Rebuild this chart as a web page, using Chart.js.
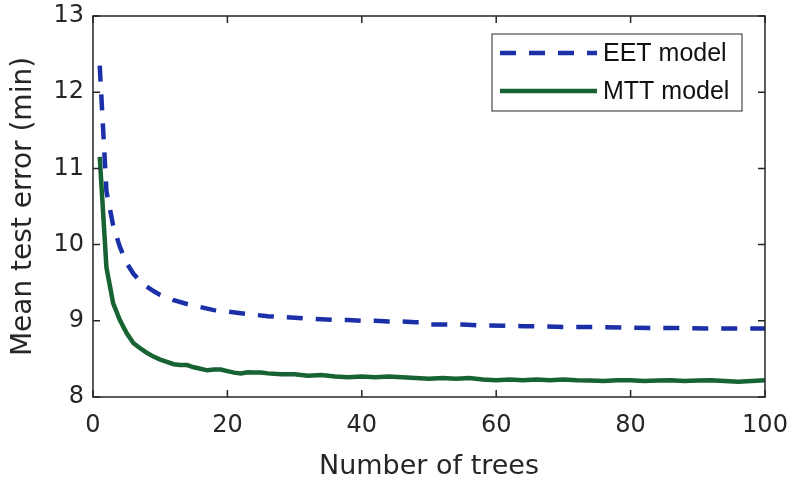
<!DOCTYPE html>
<html>
<head>
<meta charset="utf-8">
<script src="https://cdn.jsdelivr.net/npm/chart.js@4/dist/chart.umd.min.js"></script>
<style>
  html, body { margin: 0; padding: 0; background: #fff; }
  #wrap { width: 788px; height: 480px; }
</style>
</head>
<body>
<div id="wrap"><canvas id="c" width="788" height="480"></canvas></div>
<script>
// data
let eetX = [1, 2, 3, 4, 5, 6, 7, 8, 9, 10, 12, 14, 16, 18, 20, 22, 24, 26, 28, 30, 32, 34, 36, 38, 40, 42, 44, 46, 48, 49, 50, 52, 55, 58, 61, 64, 67, 70, 73, 76, 80, 84, 88, 92, 96, 100]
let eetY = [12.35, 10.7, 10.25, 9.97, 9.76, 9.62, 9.52, 9.45, 9.39, 9.34, 9.27, 9.22, 9.18, 9.14, 9.12, 9.1, 9.08, 9.06, 9.05, 9.04, 9.03, 9.02, 9.01, 9.01, 9.0, 9.0, 8.99, 8.99, 8.98, 8.98, 8.95, 8.95, 8.95, 8.94, 8.935, 8.93, 8.925, 8.92, 8.92, 8.915, 8.91, 8.905, 8.905, 8.9, 8.9, 8.9]

let mttX = [1, 2, 3, 4, 5, 6, 7, 8, 9, 10, 11, 12, 13, 14, 15, 16, 17, 18, 19, 20, 21, 22, 23, 24, 25, 26, 28, 30, 32, 34, 36, 38, 40, 42, 44, 46, 48, 50, 52, 54, 56, 58, 60, 62, 64, 66, 68, 70, 72, 74, 76, 78, 80, 82, 84, 86, 88, 90, 92, 94, 96, 98, 100]
let mttY = [11.15, 9.7, 9.23, 9.01, 8.84, 8.71, 8.64, 8.58, 8.53, 8.49, 8.46, 8.43, 8.42, 8.42, 8.39, 8.37, 8.35, 8.36, 8.36, 8.34, 8.32, 8.31, 8.325, 8.32, 8.32, 8.31, 8.3, 8.3, 8.28, 8.29, 8.27, 8.26, 8.27, 8.26, 8.27, 8.26, 8.25, 8.24, 8.25, 8.24, 8.25, 8.23, 8.22, 8.23, 8.22, 8.23, 8.22, 8.23, 8.22, 8.215, 8.21, 8.22, 8.22, 8.21, 8.215, 8.22, 8.21, 8.215, 8.22, 8.21, 8.2, 8.21, 8.22]

let xTicks = [0, 20, 40, 60, 80, 100]
let yTicks = [8, 9, 10, 11, 12, 13]

let axisColor = "#262626"
let font = "'DejaVu Sans', Verdana, sans-serif"
let legendFont = "'Liberation Sans', Arial, Helvetica, sans-serif"

let toPoints = function (xs, ys) {
    return xs.map((x, i) => ({x: x, y: ys[i]}))
}

// box round the plot + inward ticks on all four sides, matlab style
let boxPlugin = {
    id: "box",
    afterDatasetsDraw(chart) {
        let ctx = chart.ctx
        let a = chart.chartArea
        let xs = chart.scales.x
        let ys = chart.scales.y
        let len = 7
        ctx.save()
        ctx.strokeStyle = axisColor
        ctx.lineWidth = 1.5
        ctx.strokeRect(a.left, a.top, a.right - a.left, a.bottom - a.top)
        ctx.beginPath()
        xTicks.forEach(v => {
            let px = xs.getPixelForValue(v)
            ctx.moveTo(px, a.bottom); ctx.lineTo(px, a.bottom - len)
            ctx.moveTo(px, a.top); ctx.lineTo(px, a.top + len)
        })
        yTicks.forEach(v => {
            let py = ys.getPixelForValue(v)
            ctx.moveTo(a.left, py); ctx.lineTo(a.left + len, py)
            ctx.moveTo(a.right, py); ctx.lineTo(a.right - len, py)
        })
        ctx.stroke()
        ctx.restore()
    }
}

// legend box in the top right corner
let legendPlugin = {
    id: "boxLegend",
    afterDraw(chart) {
        let ctx = chart.ctx
        let a = chart.chartArea
        let w = 250, h = 77
        let bx = a.right - 23 - w
        let by = a.top + 18
        ctx.save()
        ctx.fillStyle = "#fff"
        ctx.fillRect(bx, by, w, h)
        ctx.strokeStyle = axisColor
        ctx.lineWidth = 1
        ctx.strokeRect(bx, by, w, h)
        ctx.font = "25px " + legendFont
        ctx.textBaseline = "middle"
        chart.data.datasets.forEach((ds, i) => {
            let cy = by + 19 + i * 38
            ctx.beginPath()
            ctx.strokeStyle = ds.borderColor
            ctx.lineWidth = ds.borderWidth
            ctx.setLineDash(ds.borderDash || [])
            ctx.moveTo(bx + 8, cy)
            ctx.lineTo(bx + 105, cy)
            ctx.stroke()
            ctx.setLineDash([])
            ctx.fillStyle = "#111"
            ctx.fillText(ds.label, bx + 111, cy + 1)
        })
        ctx.restore()
    }
}

new Chart(document.getElementById("c"), {
    type: "line",
    data: {
        datasets: [
            {label: "EET model", data: toPoints(eetX, eetY), borderColor: "#1b2fa8", borderWidth: 4.5, borderDash: [16, 13], pointRadius: 0, tension: 0, fill: false},
            {label: "MTT model", data: toPoints(mttX, mttY), borderColor: "#176333", borderWidth: 4.5, pointRadius: 0, tension: 0, fill: false}
        ]
    },
    options: {
        responsive: false,
        animation: false,
        layout: {padding: {left: 0, right: 23, top: 16, bottom: 0}},
        plugins: {legend: {display: false}, tooltip: {enabled: false}},
        scales: {
            x: {
                type: "linear", min: 0, max: 100,
                afterBuildTicks: s => { s.ticks = xTicks.map(v => ({value: v})) },
                afterFit: s => { s.height = 83; s.paddingLeft = 0; s.paddingRight = 0 },
                grid: {display: false, drawTicks: false},
                border: {display: false},
                ticks: {color: axisColor, font: {family: font, size: 24}, padding: 14, maxRotation: 0},
                title: {display: true, text: "Number of trees", color: axisColor, font: {family: font, size: 27, lineHeight: 1.0}, padding: {top: 0, bottom: 0}}
            },
            y: {
                type: "linear", min: 8, max: 13,
                afterBuildTicks: s => { s.ticks = yTicks.map(v => ({value: v})) },
                afterFit: s => { s.width = 93; s.paddingTop = 0; s.paddingBottom = 0 },
                grid: {display: false, drawTicks: false},
                border: {display: false},
                ticks: {color: axisColor, font: {family: font, size: 24}, padding: 9},
                title: {display: true, text: "Mean test error (min)", color: axisColor, font: {family: font, size: 28, lineHeight: 1.0}, padding: {top: 10, bottom: 0}}
            }
        }
    },
    plugins: [boxPlugin, legendPlugin]
})
</script>
</body>
</html>
